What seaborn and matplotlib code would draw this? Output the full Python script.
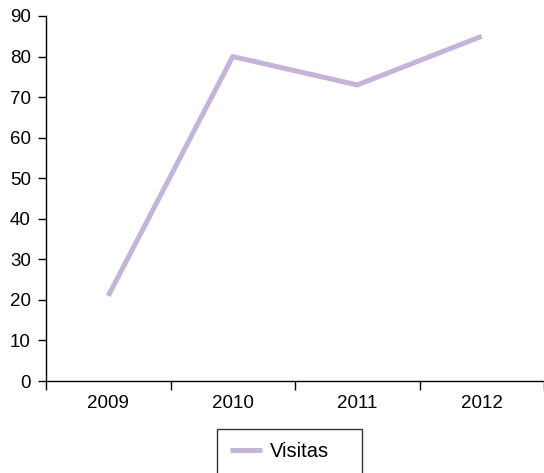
import pandas as pd
import matplotlib
matplotlib.use('Agg')
import matplotlib.pyplot as plt
import seaborn as sns

# data
years = ['2009', '2010', '2011', '2012']
visitas = [21, 80, 73, 85]

sns.set_style("ticks")
plt.rcParams['font.family'] = ['Liberation Sans', 'DejaVu Sans']

df = pd.DataFrame({'year': years, 'Visitas': visitas})

fig = plt.figure(figsize=(5.44, 4.73), dpi=100)
ax = fig.add_axes([46 / 544, 1 - 381 / 473, 1 - 46 / 544, (381 - 16) / 473])

sns.lineplot(x='year', y='Visitas', data=df, ax=ax, color='#c4b4d8', linewidth=3.6,
             label='Visitas', legend=False, solid_capstyle='butt')

ax.set_xlim(-0.5, 3.5)
ax.set_ylim(0, 90)
ax.set_yticks(range(0, 91, 10))
ax.set_xticks(range(len(years)))
ax.set_xticklabels(years)
ax.set_xticks([i - 0.5 for i in range(len(years) + 1)], minor=True)
ax.tick_params(axis='x', which='major', length=0, pad=10, labelsize=13.5, labelcolor='black')
ax.tick_params(axis='x', which='minor', length=6.5, width=1, color='black')
ax.tick_params(axis='y', length=6, width=1, color='black', labelsize=13.5, labelcolor='black', pad=5)
ax.set_xlabel('')
ax.set_ylabel('')
for s in ['top', 'right']:
    ax.spines[s].set_visible(False)
for s in ['left', 'bottom']:
    ax.spines[s].set_color('black')
    ax.spines[s].set_linewidth(1)

h, l = ax.get_legend_handles_labels()
leg = fig.legend(h, l, loc='upper left', mode='expand',
                 bbox_to_anchor=(217 / 544, 1 - 434 / 473, 145 / 544, 0.01),
                 borderaxespad=0, fontsize=14.5, frameon=True, fancybox=False,
                 edgecolor='black', handlelength=1.6, handletextpad=0.4,
                 borderpad=0.65)
leg.get_frame().set_linewidth(1)
for t in leg.get_texts():
    t.set_color('black')

fig.savefig('out.png', dpi=100)
